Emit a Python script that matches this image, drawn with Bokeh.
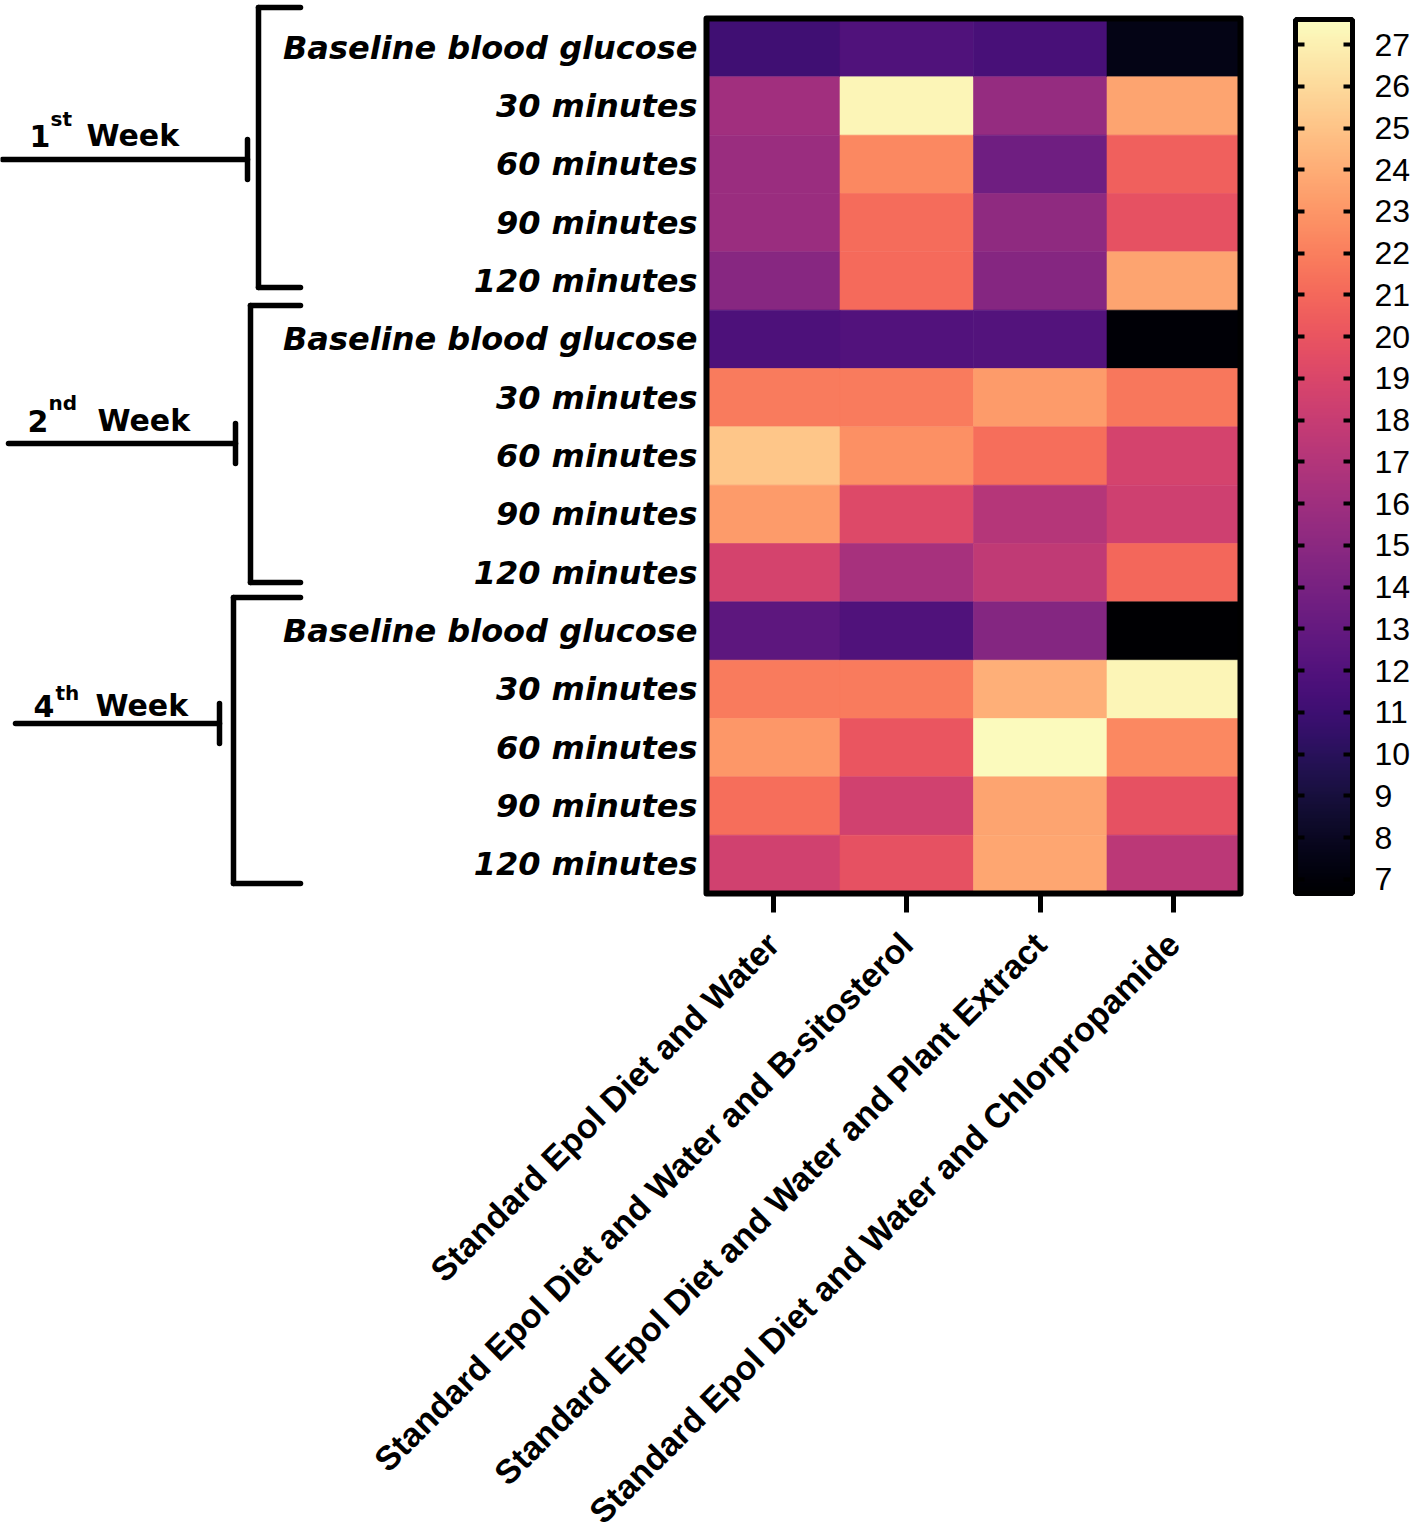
import math
import numpy as np
from bokeh.plotting import figure
from bokeh.models import (Range1d, FixedTicker, LinearColorMapper, LinearAxis,
                          Label, ColumnDataSource)
from bokeh.palettes import Magma256
from bokeh.embed import file_html
from bokeh.resources import INLINE

# ---------------- data ----------------
treatments = [
    "Standard Epol Diet and Water",
    "Standard Epol Diet and Water and B-sitosterol",
    "Standard Epol Diet and Water and Plant Extract",
    "Standard Epol Diet and Water and Chlorpropamide",
]
timepoints = ["Baseline blood glucose", "30 minutes", "60 minutes", "90 minutes", "120 minutes"]
week_numbers = ["1", "2", "4"]
week_suffixes = ["st", "nd", "th"]

# rows: week1 (baseline,30,60,90,120), week2 (...), week4 (...)
diet_water = [11.1, 16.1, 15.8, 15.8, 14.8, 11.8, 21.8, 25.1, 23.2, 18.7, 12.6, 21.8, 23.1, 21.3, 18.5]
b_sitosterol = [11.9, 27.2, 22.4, 21.2, 21.1, 12.0, 21.8, 22.7, 19.2, 16.4, 11.9, 21.8, 20.0, 18.5, 19.8]
plant_extract = [11.5, 15.5, 13.6, 15.2, 14.7, 12.1, 23.2, 21.3, 17.1, 17.7, 14.6, 24.1, 27.5, 23.6, 23.7]
chlorpropamide = [7.5, 23.6, 20.6, 19.8, 23.6, 6.9, 21.7, 18.7, 18.4, 20.9, 6.7, 27.2, 22.4, 19.8, 17.4]

scale_ticks = list(range(7, 28))
scale_low, scale_high = 6.66, 27.6

series = [diet_water, b_sitosterol, plant_extract, chlorpropamide]
row_labels = [t for _ in week_numbers for t in timepoints]
n_rows = len(row_labels)
n_cols = len(series)

xs, ys, vals = [], [], []
for c, col in enumerate(series):
    for r, v in enumerate(col):
        xs.append(c)
        ys.append(r)
        vals.append(v)
src = ColumnDataSource(dict(x=xs, y=ys, v=vals))

mapper = LinearColorMapper(palette=Magma256, low=scale_low, high=scale_high)

# ---------------- layout constants (pixels) ----------------
W, H = 1416, 1531
HM_L, HM_R, HM_T, HM_B = 706, 1240, 18, 893      # heat-map box
CB_L, CB_R, CB_T, CB_B = 1295, 1352, 19, 893     # colour-scale bar
CELL_W = (HM_R - HM_L) / n_cols
CELL_H = (HM_B - HM_T) / n_rows
SCALE_PX = (CB_B - CB_T) / (scale_high - scale_low)


def dx(px):
    return -0.5 + (px - HM_L) / CELL_W


def dy(py):
    return -0.5 + (py - HM_T) / CELL_H


p = figure(width=W, height=H, output_backend="svg", toolbar_location=None,
           x_range=Range1d(dx(0), dx(W)),
           y_range=Range1d(dy(H), dy(0)),
           min_border_left=0, min_border_right=0, min_border_top=0, min_border_bottom=0)
p.extra_y_ranges = {"scale": Range1d(scale_low - (H - CB_B) / SCALE_PX,
                                     scale_high + CB_T / SCALE_PX)}
p.background_fill_color = "white"
p.border_fill_color = "white"
p.outline_line_color = None
p.grid.visible = False

# heat-map cells
p.rect(x="x", y="y", width=1, height=1, source=src,
       fill_color={"field": "v", "transform": mapper},
       line_color={"field": "v", "transform": mapper}, line_width=0.6)
# heat-map frame
p.rect(x=[(n_cols - 1) / 2], y=[(n_rows - 1) / 2], width=n_cols, height=n_rows,
       fill_color=None, line_color="black", line_width=6, line_join="round")

# x axis fixed at heat-map bottom
p.xaxis.fixed_location = n_rows - 0.5
p.xaxis.ticker = FixedTicker(ticks=list(range(n_cols)))
p.xaxis.major_label_overrides = {i: t for i, t in enumerate(treatments)}
p.xaxis.major_label_orientation = math.pi / 4
p.xaxis.axis_line_color = None
p.xaxis.major_tick_line_width = 5
p.xaxis.major_tick_line_color = "black"
p.xaxis.major_tick_out = 19
p.xaxis.major_tick_in = 0
p.xaxis.minor_tick_line_color = None
p.xaxis.major_label_text_font = "Liberation Sans"
p.xaxis.major_label_text_font_style = "bold"
p.xaxis.major_label_text_font_size = "34px"
p.xaxis.major_label_text_color = "black"
p.xaxis.major_label_standoff = 26

# y axis fixed at heat-map left edge
p.yaxis.fixed_location = -0.5
p.yaxis.ticker = FixedTicker(ticks=list(range(n_rows)))
p.yaxis.major_label_overrides = {i: t for i, t in enumerate(row_labels)}
p.yaxis.axis_line_color = None
p.yaxis.major_tick_line_color = None
p.yaxis.minor_tick_line_color = None
p.yaxis.major_tick_out = 0
p.yaxis.major_tick_in = 0
p.yaxis.major_label_text_font = "DejaVu Sans"
p.yaxis.major_label_text_font_style = "bold italic"
p.yaxis.major_label_text_font_size = "32px"
p.yaxis.major_label_text_color = "black"
p.yaxis.major_label_standoff = 9

# week brackets and labels (page pixel layout per group)
bracket_x = [258, 250, 233]
bracket_top = [7, 305, 597]
bracket_bot = [287, 582, 883]
bracket_right = 300
pointer_y = [159, 443, 723]
pointer_x0 = [2, 8, 15]
pointer_x1 = [247, 235, 219]
tee_half = 20
num_x = [29, 27, 33]
sup_x = [50, 48, 55]
week_x = [86, 97, 95]
base_y = [135, 420, 705]
sup_raise = [17, 18, 13]

LW = 5.5
sx0, sy0, sx1, sy1 = [], [], [], []
for g in range(len(week_numbers)):
    segs = [
        (bracket_right, bracket_top[g], bracket_x[g], bracket_top[g]),
        (bracket_x[g], bracket_top[g], bracket_x[g], bracket_bot[g]),
        (bracket_x[g], bracket_bot[g], bracket_right, bracket_bot[g]),
        (pointer_x0[g], pointer_y[g], pointer_x1[g], pointer_y[g]),
        (pointer_x1[g], pointer_y[g] - tee_half, pointer_x1[g], pointer_y[g] + tee_half),
    ]
    for (xa, ya, xb, yb) in segs:
        sx0.append(dx(xa)); sy0.append(dy(ya)); sx1.append(dx(xb)); sy1.append(dy(yb))
p.segment(x0=sx0, y0=sy0, x1=sx1, y1=sy1, line_color="black", line_width=LW,
          line_cap="round")

for g in range(len(week_numbers)):
    p.add_layout(Label(x=dx(num_x[g]), y=dy(base_y[g]), text=week_numbers[g],
                       text_font="DejaVu Sans", text_font_style="bold",
                       text_font_size="30px", text_baseline="alphabetic",
                       text_align="left", text_color="black"))
    p.add_layout(Label(x=dx(sup_x[g]), y=dy(base_y[g] - sup_raise[g]), text=week_suffixes[g],
                       text_font="DejaVu Sans", text_font_style="bold",
                       text_font_size="20px", text_baseline="alphabetic",
                       text_align="left", text_color="black"))
    p.add_layout(Label(x=dx(week_x[g]), y=dy(base_y[g]), text="Week",
                       text_font="DejaVu Sans", text_font_style="bold",
                       text_font_size="30px", text_baseline="alphabetic",
                       text_align="left", text_color="black"))

# ---------------- colour scale ----------------
bar_w = (CB_R - CB_L) / CELL_W
grad = np.linspace(scale_low, scale_high, 512).reshape(-1, 1)
p.image(image=[grad], x=dx(CB_L), y=scale_low, dw=bar_w, dh=scale_high - scale_low,
        color_mapper=mapper, y_range_name="scale")
p.rect(x=[dx(CB_L) + bar_w / 2], y=[(scale_low + scale_high) / 2], width=bar_w,
       height=scale_high - scale_low, fill_color=None, line_color="black",
       line_width=5, y_range_name="scale")

scale_right = LinearAxis(y_range_name="scale", fixed_location=dx(CB_R),
                         ticker=FixedTicker(ticks=scale_ticks), axis_line_color=None,
                         major_tick_in=9, major_tick_out=0, major_tick_line_width=4,
                         major_tick_line_color="black", minor_tick_line_color=None,
                         major_label_text_font="Liberation Sans",
                         major_label_text_font_size="32px",
                         major_label_text_color="black", major_label_standoff=22)
p.add_layout(scale_right, "right")
scale_left = LinearAxis(y_range_name="scale", fixed_location=dx(CB_L),
                        ticker=FixedTicker(ticks=scale_ticks), axis_line_color=None,
                        major_tick_in=9, major_tick_out=0, major_tick_line_width=4,
                        major_tick_line_color="black", minor_tick_line_color=None,
                        major_label_text_font_size="0px", major_label_text_color=None)
p.add_layout(scale_left, "left")

open("out.html", "w").write(file_html(p, INLINE))
